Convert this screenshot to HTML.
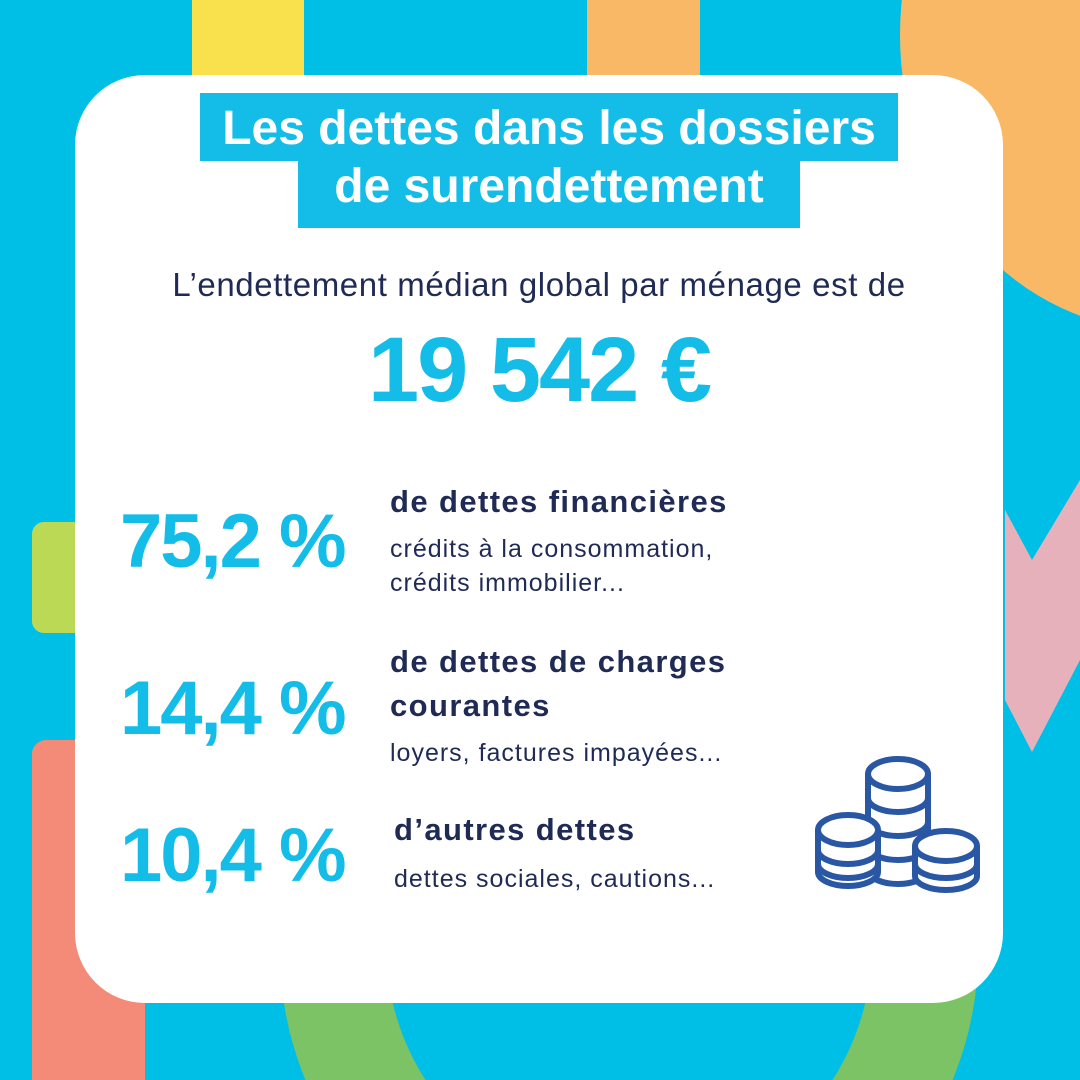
<!DOCTYPE html>
<html style="margin:0;width:1080px;height:1080px;overflow:hidden"><head><meta charset="utf-8"><style>
body{margin:0;width:1080px;height:1080px;overflow:hidden;background:#00bfe7;font-family:"Liberation Sans",sans-serif}
#w{position:relative;width:1080px;height:1080px;overflow:hidden;background:#00bfe7}
.a{position:absolute}
svg{overflow:hidden}
.t{position:absolute;white-space:nowrap}
.big{color:#13bde8;font-weight:bold;letter-spacing:-2px}
.h{color:#1f2a55;font-weight:bold;font-size:31px;letter-spacing:1.4px}
.s{color:#1f2a55;font-size:25px;letter-spacing:1px}
</style></head><body><div id="w">
<div class="a" style="left:192px;top:0;width:112px;height:80px;background:#f9e04d"></div>
<div class="a" style="left:587px;top:0;width:113px;height:80px;background:#f9b866"></div>
<div class="a" style="left:900px;top:-260px;width:520px;height:590px;border-radius:50%;background:#f9b866"></div>
<svg class="a" style="left:0;top:0" width="1080" height="1080">
<polygon points="1005,510 1032,560 1080,480 1080,660 1032,752 1005,700" fill="#e7b1bc"/>
<circle cx="629" cy="948" r="296" fill="none" stroke="#7bc365" stroke-width="107"/>
</svg>
<div class="a" style="left:32px;top:522px;width:60px;height:111px;border-radius:12px;background:#bcd955"></div>
<div class="a" style="left:32px;top:740px;width:113px;height:340px;border-radius:14px 0 0 0;background:#f48b78"></div>
<div class="a" style="left:75px;top:75px;width:928px;height:928px;border-radius:70px;background:#fff"></div>
<div class="a" style="left:200px;top:93px;width:698px;height:68px;background:#13bde8"></div>
<div class="a" style="left:298px;top:160px;width:502px;height:68px;background:#13bde8"></div>
<div class="t" style="left:200px;top:101px;width:698px;text-align:center;color:#fff;font-weight:bold;font-size:48px">Les dettes dans les dossiers</div>
<div class="t" style="left:298px;top:159px;width:502px;text-align:center;color:#fff;font-weight:bold;font-size:48px">de surendettement</div>
<div class="t s" style="left:75px;width:928px;text-align:center;top:266px;font-size:33px;letter-spacing:0.6px">L’endettement médian global par ménage est de</div>
<div class="t big" style="left:75px;width:928px;text-align:center;top:318px;font-size:92px">19 542 €</div>
<div class="t big" style="left:120px;top:498px;font-size:76px">75,2 %</div>
<div class="t h" style="left:390px;top:484px">de dettes financières</div>
<div class="t s" style="left:390px;top:535px">crédits à la consommation,</div>
<div class="t s" style="left:390px;top:569px">crédits immobilier...</div>
<div class="t big" style="left:120px;top:665px;font-size:76px">14,4 %</div>
<div class="t h" style="left:390px;top:644px">de dettes de charges</div>
<div class="t h" style="left:390px;top:688px">courantes</div>
<div class="t s" style="left:390px;top:739px">loyers, factures impayées...</div>
<div class="t big" style="left:120px;top:812px;font-size:76px">10,4 %</div>
<div class="t h" style="left:394px;top:812px">d’autres dettes</div>
<div class="t s" style="left:394px;top:865px">dettes sociales, cautions...</div>
<svg class="a" style="left:0;top:0" width="1080" height="1080" fill="#fff" stroke="#2957a4" stroke-width="6">
<g><path d="M868,774 v96 a30,14 0 0 0 60,0 v-96"/><path d="M868,798 a30,14 0 0 0 60,0 M868,822 a30,14 0 0 0 60,0 M868,846 a30,14 0 0 0 60,0"/><ellipse cx="898" cy="774" rx="30" ry="15"/></g>
<g><path d="M818,830 v42 a30,14 0 0 0 60,0 v-42"/><path d="M818,850 a30,14 0 0 0 60,0 M818,864 a30,14 0 0 0 60,0"/><ellipse cx="848" cy="830" rx="30" ry="15"/></g>
<g><path d="M915,846 v30 a31,14 0 0 0 62,0 v-30"/><path d="M915,864 a31,14 0 0 0 62,0"/><ellipse cx="946" cy="846" rx="31" ry="15"/></g>
</svg>
</div></body></html>
